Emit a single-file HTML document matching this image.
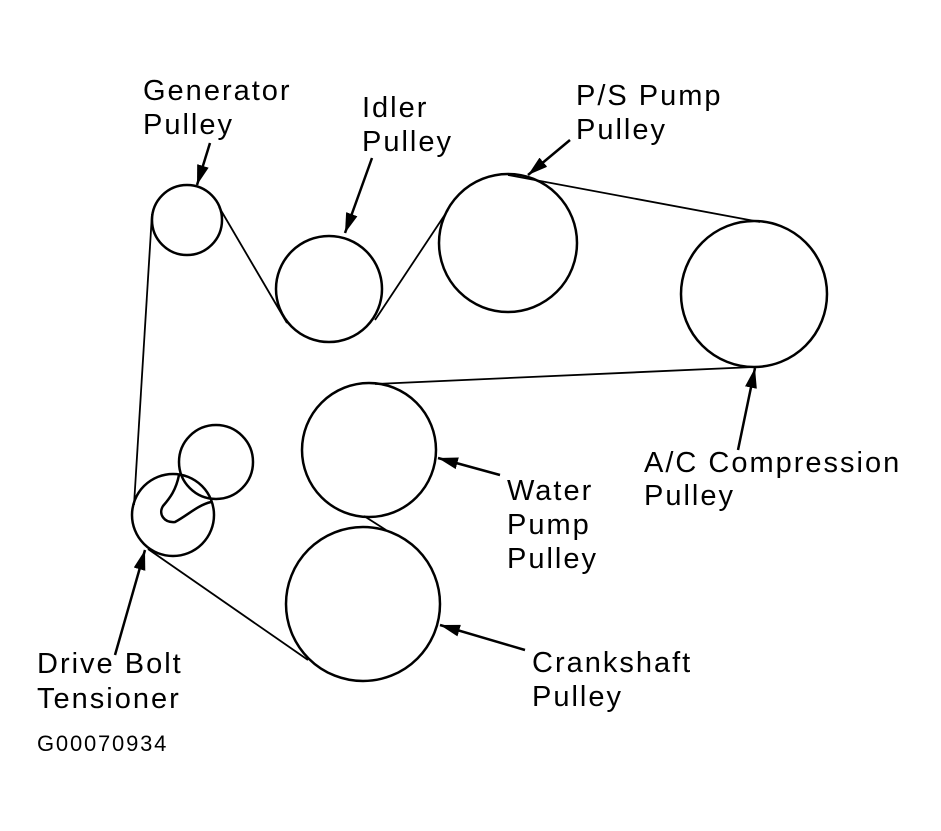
<!DOCTYPE html>
<html><head><style>html,body{margin:0;padding:0;background:#fff}</style></head><body>
<svg width="941" height="826" viewBox="0 0 941 826" xmlns="http://www.w3.org/2000/svg">
<defs>
<marker id="b" viewBox="0 0 20 12" refX="20" refY="6" markerWidth="20" markerHeight="12" orient="auto" markerUnits="userSpaceOnUse"><path d="M0,0 L20,6 L0,12 Z"/></marker></defs>
<g fill="none" stroke="#000" stroke-width="2.5">
<circle cx="187" cy="220" r="35"/>
<circle cx="329" cy="289" r="53"/>
<circle cx="508" cy="243" r="69"/>
<circle cx="754" cy="294" r="73"/>
<circle cx="369" cy="450" r="67"/>
<circle cx="363" cy="604" r="77"/>
<circle cx="173" cy="515" r="41"/>
<circle cx="216" cy="462" r="37"/>
<path d="M179,475 C176,490 170,498 163,506 C158,514 164,523 175,522 C188,515 198,505 211,502"/>
</g>
<g stroke="#000" stroke-width="1.8" fill="none">
<line x1="152" y1="214" x2="134" y2="505"/>
<line x1="219" y1="207" x2="287" y2="323"/>
<line x1="375" y1="320" x2="448" y2="210"/>
<line x1="508" y1="175" x2="760" y2="222"/>
<line x1="754" y1="367" x2="375" y2="384"/>
<line x1="364" y1="516" x2="386" y2="530"/>
<line x1="308" y1="660" x2="148" y2="549"/>
</g>
<g stroke="#000" stroke-width="2.5" fill="none">
<line x1="210" y1="143" x2="197" y2="185" marker-end="url(#b)"/>
<line x1="372" y1="158" x2="345" y2="233" marker-end="url(#b)"/>
<line x1="570" y1="140" x2="528" y2="175" marker-end="url(#b)"/>
<line x1="738" y1="450" x2="755" y2="368" marker-end="url(#b)"/>
<line x1="500" y1="475" x2="438" y2="458" marker-end="url(#b)"/>
<line x1="525" y1="650" x2="440" y2="625" marker-end="url(#b)"/>
<line x1="115" y1="655" x2="145" y2="550" marker-end="url(#b)"/>
</g>
<g font-family="Liberation Sans, sans-serif" font-size="29" fill="#000" letter-spacing="2">
<text x="143" y="100">Generator</text><text x="143" y="134">Pulley</text>
<text x="362" y="117">Idler</text><text x="362" y="151">Pulley</text>
<text x="576" y="105">P/S Pump</text><text x="576" y="139">Pulley</text>
<text x="644" y="472">A/C Compression</text><text x="644" y="505">Pulley</text>
<text x="507" y="500">Water</text><text x="507" y="534">Pump</text><text x="507" y="568">Pulley</text>
<text x="532" y="672">Crankshaft</text><text x="532" y="706">Pulley</text>
<text x="37" y="673">Drive Bolt</text><text x="37" y="708">Tensioner</text>
<text x="37" y="751" font-size="22" letter-spacing="1.8">G00070934</text>
</g>
</svg>
</body></html>
